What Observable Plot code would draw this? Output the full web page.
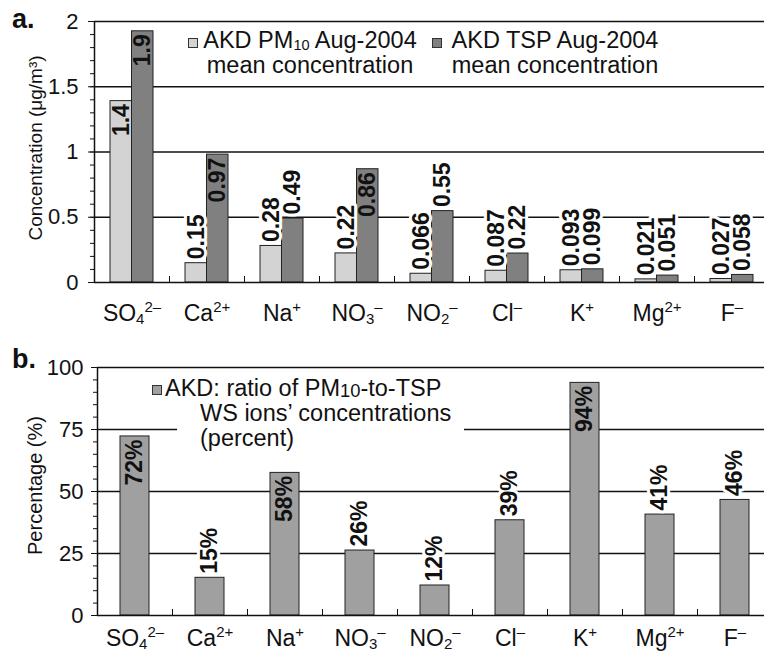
<!DOCTYPE html>
<html><head><meta charset="utf-8">
<script src="https://cdn.jsdelivr.net/npm/d3@7"></script>
<script src="https://cdn.jsdelivr.net/npm/@observablehq/plot@0.6"></script>
<style>
body{margin:0;background:#fff;overflow:hidden;font-family:"Liberation Sans",Arial,sans-serif;}
#fig{position:relative;width:764px;height:653px;overflow:hidden;background:#fff;}
.abs{position:absolute;white-space:nowrap;color:#111;}
.sw{position:absolute;width:8px;height:8px;border:1px solid #333;}
.leg{font-size:23.5px;line-height:25px;}
.leg sub{font-size:0.62em;vertical-align:-0.12em;line-height:0;}
.leg sub.big{font-size:0.78em;vertical-align:-0.05em;}
.pl{font-weight:bold;font-size:27px;line-height:26px;}
</style></head><body><div id="fig"></div>
<script>
// ---- data ----
const ions = ["SO4","Ca","Na","NO3","NO2","Cl","K","Mg","F"];
const ionBase = ["SO","Ca","Na","NO","NO","Cl","K","Mg","F"];
const ionSub = ["4","","","3","2","","","",""];
const ionSup = ["2–","2+","+","–","–","–","+","2+","–"];
const pm10 = [1.39,0.148,0.28,0.223,0.067,0.09,0.094,0.024,0.027];
const pm10Labels = ["1.4","0.15","0.28","0.22","0.066","0.087","0.093","0.021","0.027"];
const tsp = [1.925,0.98,0.49,0.868,0.547,0.222,0.101,0.053,0.058];
const tspLabels = ["1.9","0.97","0.49","0.86","0.55","0.22","0.099","0.051","0.058"];
const ratio = [72.2,15.2,57.5,26.2,12.1,38.4,93.8,40.7,46.6];
const ratioLabels = ["72%","15%","58%","26%","12%","39%","94%","41%","46%"];
const yTicksA = [0,0.5,1,1.5,2];
const yTicksB = [0,25,50,75,100];
const titleA = "Concentration (μg/m³)";
const titleB = "Percentage (%)";

// ---- layout ----
const W = 764;
const HA = 330, mlA = 94, mrA = -5, mtA = 21, mbA = 48;
const HB = 323, mlB = 97, mrB = -8, mtB = 37, mbB = 38;
const stepA = (W - mrA - mlA) / ions.length;
const stepB = (W - mrB - mlB) / ions.length;
const barWA = 21.5, barWB = 29;
const ink = "#111";
const style = {fontFamily: "'Liberation Sans', Arial, sans-serif", fontSize: "22px", color: ink, background: "white"};

const rowsPM = ions.map((ion,i)=>({ion, value: pm10[i], label: pm10Labels[i]}));
const rowsTSP = ions.map((ion,i)=>({ion, value: tsp[i], label: tspLabels[i]}));
const rowsR = ions.map((ion,i)=>({ion, value: ratio[i], label: ratioLabels[i]}));

const lblIn = {rotate: -90, textAnchor: "end", lineAnchor: "middle", dy: 3, fontSize: 23, fontWeight: "bold", fill: ink};
const lblOut = {rotate: -90, textAnchor: "start", lineAnchor: "middle", dy: -4, fontSize: 23, fontWeight: "bold", fill: ink, stroke: "white", strokeWidth: 6, paintOrder: "stroke"};

const plotA = Plot.plot({
  width: W, height: HA, marginLeft: mlA, marginRight: mrA, marginTop: mtA, marginBottom: mbA,
  style,
  x: {type: "band", domain: ions, padding: 0, axis: null},
  y: {domain: [0, 2], axis: null},
  marks: [
    Plot.ruleY(yTicksA.filter(d => d > 0), {stroke: ink, strokeWidth: 1.5}),
    Plot.axisY({ticks: 20, tickSize: 4, tickFormat: () => "", label: null, stroke: ink}),
    Plot.axisY({ticks: yTicksA, tickSize: 6, tickPadding: 10, tickFormat: d => String(d), label: null, fontSize: 22, stroke: ink}),
    Plot.barY(rowsPM, {x: "ion", y: "value", fill: "#d3d3d3", stroke: "#222", strokeWidth: 1, insetLeft: stepA/2 - barWA, insetRight: stepA/2}),
    Plot.barY(rowsTSP, {x: "ion", y: "value", fill: "#808080", stroke: "#222", strokeWidth: 1, insetLeft: stepA/2, insetRight: stepA/2 - barWA}),
    Plot.ruleY([0], {stroke: ink, strokeWidth: 1.5}),
    Plot.ruleX([ions[0]], {x: d => d, dx: -stepA/2, stroke: ink, strokeWidth: 1.5}),
    Plot.ruleX(ions, {x: d => d, dx: stepA/2, insetTop: HA - mtA - mbA - 6, stroke: ink}),
    Plot.axisX({tickSize: 0, tickPadding: 22, fontSize: 23, tickFormat: d => d, label: null}),
    Plot.text(rowsPM.filter(d => d.value > 0.6), {x: "ion", y: "value", text: "label", dx: -barWA/2, ...lblIn}),
    Plot.text(rowsPM.filter(d => d.value <= 0.6), {x: "ion", y: "value", text: "label", dx: -barWA/2, ...lblOut}),
    Plot.text(rowsTSP.filter(d => d.value > 0.6), {x: "ion", y: "value", text: "label", dx: barWA/2, ...lblIn}),
    Plot.text(rowsTSP.filter(d => d.value <= 0.6), {x: "ion", y: "value", text: "label", dx: barWA/2, ...lblOut}),
    Plot.text([titleA], {text: d => d, frameAnchor: "left", textAnchor: "middle", lineAnchor: "middle", rotate: -90, dx: -59, dy: -4, fontSize: 19, fill: ink})
  ]
});

const plotB = Plot.plot({
  width: W, height: HB, marginLeft: mlB, marginRight: mrB, marginTop: mtB, marginBottom: mbB,
  style,
  x: {type: "band", domain: ions, padding: 0, axis: null},
  y: {domain: [0, 100], axis: null},
  marks: [
    Plot.ruleY(yTicksB.filter(d => d > 0), {stroke: ink, strokeWidth: 1.5}),
    Plot.axisY({ticks: 20, tickSize: 4, tickFormat: () => "", label: null, stroke: ink}),
    Plot.axisY({ticks: yTicksB, tickSize: 6, tickPadding: 8, tickFormat: d => String(d), label: null, fontSize: 22, stroke: ink}),
    Plot.barY(rowsR, {x: "ion", y: "value", fill: "#a0a0a0", stroke: "#222", strokeWidth: 1, insetLeft: (stepB - barWB)/2, insetRight: (stepB - barWB)/2}),
    Plot.ruleY([0], {stroke: ink, strokeWidth: 1.5}),
    Plot.ruleX([ions[0]], {x: d => d, dx: -stepB/2, stroke: ink, strokeWidth: 1.5}),
    Plot.ruleX(ions, {x: d => d, dx: stepB/2, insetTop: HB - mtB - mbB - 6, stroke: ink}),
    Plot.axisX({tickSize: 0, tickPadding: 14, fontSize: 23, tickFormat: d => d, label: null}),
    Plot.text(rowsR.filter(d => d.value > 50), {x: "ion", y: "value", text: "label", ...lblIn}),
    Plot.text(rowsR.filter(d => d.value <= 50), {x: "ion", y: "value", text: "label", ...lblOut}),
    Plot.text([titleB], {text: d => d, frameAnchor: "left", textAnchor: "middle", lineAnchor: "middle", rotate: -90, dx: -62, dy: -6, fontSize: 20, fill: ink})
  ]
});

function fixTicks(svg) {
  const ns = "http://www.w3.org/2000/svg";
  svg.querySelectorAll('[aria-label="x-axis tick label"] text').forEach(el => {
    const i = ions.indexOf(el.textContent.trim());
    if (i < 0) return;
    el.textContent = "";
    const t0 = document.createElementNS(ns, "tspan"); t0.textContent = ionBase[i]; el.appendChild(t0);
    if (ionSub[i]) {
      const t = document.createElementNS(ns, "tspan");
      t.setAttribute("font-size", "15"); t.setAttribute("dy", "3"); t.textContent = ionSub[i]; el.appendChild(t);
    }
    const s = document.createElementNS(ns, "tspan");
    s.setAttribute("font-size", "15"); s.setAttribute("dy", ionSub[i] ? "-12" : "-9"); s.textContent = ionSup[i]; el.appendChild(s);
  });
}
fixTicks(plotA); fixTicks(plotB);

const fig = document.getElementById("fig");
function place(node, top) {
  const d = document.createElement("div");
  d.style.cssText = `position:absolute;left:0;top:${top}px;`;
  d.appendChild(node); fig.appendChild(d);
}
place(plotA, 0);
place(plotB, HA);

const overlay = `
<div class="abs pl" style="left:12px;top:6px;">a.</div>
<div class="abs pl" style="left:12px;top:346px;">b.</div>
<div class="sw" style="left:188px;top:38px;background:#d3d3d3;"></div>
<div class="abs leg" style="left:195px;top:28px;width:230px;text-align:center;">AKD PM<sub>10</sub> Aug-2004<br>mean concentration</div>
<div class="sw" style="left:432px;top:38px;background:#808080;"></div>
<div class="abs leg" style="left:440px;top:28px;width:230px;text-align:center;">AKD TSP Aug-2004<br>mean concentration</div>
<div class="abs" style="left:177px;top:404px;width:287px;height:50px;background:#fff;"></div>
<div class="sw" style="left:152px;top:385px;background:#a0a0a0;"></div>
<div class="abs leg" style="left:165px;top:376px;">AKD: ratio of PM<sub class="big">10</sub>-to-TSP</div>
<div class="abs leg" style="left:200px;top:401px;">WS ions’ concentrations</div>
<div class="abs leg" style="left:200px;top:426px;">(percent)</div>`;
fig.insertAdjacentHTML("beforeend", overlay);
</script></body></html>
